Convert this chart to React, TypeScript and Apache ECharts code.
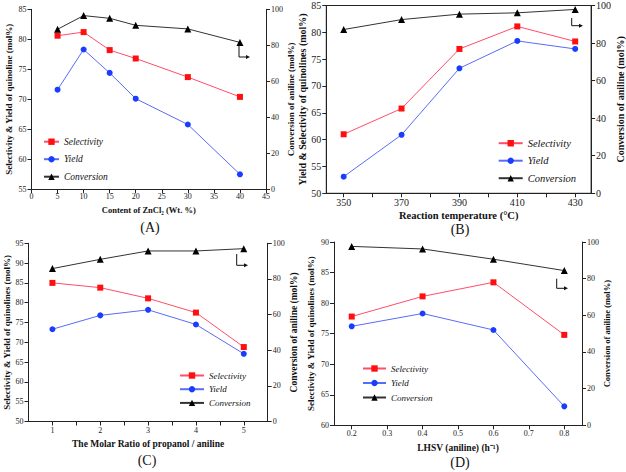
import React, { useEffect, useRef } from "react";
import * as echarts from "echarts";

// Panel A – content of ZnCl2
const A_x = [5, 10, 15, 20, 30, 40];
const A_sel = [80.6, 81.2, 78.2, 76.8, 73.7, 70.4];
const A_yield = [71.6, 78.3, 74.4, 70.1, 65.8, 57.5];
const A_conv = [88.9, 96.5, 95.0, 91.1, 89.1, 81.6];

// Panel B – reaction temperature
const B_x = [350, 370, 390, 410, 430];
const B_sel = [61.0, 65.8, 76.9, 81.1, 78.3];
const B_yield = [53.1, 60.9, 73.3, 78.4, 76.9];
const B_conv = [87.2, 92.5, 95.4, 96.1, 97.9];
const B_labels = [350, 370, 390, 410, 430];
const B_ticks = [350, 360, 370, 380, 390, 400, 410, 420, 430];

// Panel C – molar ratio
const C_x = [1, 2, 3, 4, 5];
const C_sel = [85.0, 83.8, 81.1, 77.5, 68.8];
const C_yield = [73.3, 76.8, 78.2, 74.5, 67.1];
const C_conv = [85.8, 91.0, 95.7, 95.7, 97.0];
const C_labels = [1, 2, 3, 4, 5];
const C_ticks = [1, 1.5, 2, 2.5, 3, 3.5, 4, 4.5, 5];

// Panel D – LHSV
const D_x = [0.2, 0.4, 0.6, 0.8];
const D_sel = [77.8, 81.1, 83.4, 74.8];
const D_yield = [76.2, 78.3, 75.6, 63.1];
const D_conv = [97.6, 96.2, 90.6, 84.4];
const D_labels = [0.2, 0.3, 0.4, 0.5, 0.6, 0.7, 0.8];

const SERIES_NAMES = ["Selectivity", "Yield", "Conversion"];
const FONT = "'Liberation Serif', 'Times New Roman', serif";

const SEL_LINE = "#ff4d6a";
const SEL_MARK = "#ff1010";
const Y_LINE = "#5a6cf5";
const Y_MARK = "#1a3cff";
const C_LINE = "#333333";
const C_MARK = "#000000";

const pairs = (xs: number[], ys: number[]) => xs.map((x, i) => [x, ys[i]]);

export default function App() {
  const ref = useRef<HTMLDivElement>(null);

  useEffect(() => {
    if (!ref.current) return;
    const chart = echarts.init(ref.current, null, { renderer: "svg" });

    const axisLine = { show: true, lineStyle: { color: "#222", width: 1 } };
    const tick = { show: true, inside: false, length: 4, lineStyle: { color: "#222" } };

    const xAxisCfg = (grid: number, o: any, fs: number, name: string, nfs: number, gap: number) => ({
      type: "value",
      gridIndex: grid,
      name,
      nameLocation: "middle",
      nameGap: gap,
      nameTextStyle: { fontFamily: FONT, fontSize: nfs, fontWeight: "bold", color: "#111" },
      axisLine,
      axisTick: { ...tick, ...(o.ticks ? { customValues: o.ticks } : {}) },
      axisLabel: {
        fontFamily: FONT,
        fontSize: fs,
        color: "#222",
        margin: o.margin ?? 4,
        ...(o.labels ? { customValues: o.labels } : {}),
      },
      splitLine: { show: false },
      min: o.min,
      max: o.max,
      ...(o.interval ? { interval: o.interval } : {}),
    });

    const yAxisCfg = (
      grid: number,
      pos: string,
      min: number,
      max: number,
      interval: number,
      fs: number,
      name: string,
      nfs: number,
      gap: number
    ) => ({
      type: "value",
      gridIndex: grid,
      position: pos,
      min,
      max,
      interval,
      name,
      nameLocation: "middle",
      nameRotate: 90,
      nameGap: gap,
      nameTextStyle: { fontFamily: FONT, fontSize: nfs, fontWeight: "bold", color: "#111" },
      axisLine,
      axisTick: tick,
      axisLabel: { fontFamily: FONT, fontSize: fs, color: "#222", margin: 5 },
      splitLine: { show: false },
    });

    const makeSeries = (axisOffset: number, xs: number[], sel: number[], yld: number[], conv: number[], size: number) => [
      {
        name: "Selectivity",
        type: "line",
        xAxisIndex: axisOffset,
        yAxisIndex: axisOffset * 2,
        data: pairs(xs, sel),
        symbol: "rect",
        symbolSize: size,
        lineStyle: { color: SEL_LINE, width: 1 },
        itemStyle: { color: SEL_MARK },
      },
      {
        name: "Yield",
        type: "line",
        xAxisIndex: axisOffset,
        yAxisIndex: axisOffset * 2,
        data: pairs(xs, yld),
        symbol: "circle",
        symbolSize: size,
        lineStyle: { color: Y_LINE, width: 1 },
        itemStyle: { color: Y_MARK },
      },
      {
        name: "Conversion",
        type: "line",
        xAxisIndex: axisOffset,
        yAxisIndex: axisOffset * 2 + 1,
        data: pairs(xs, conv),
        symbol: "triangle",
        symbolSize: size + 1,
        lineStyle: { color: C_LINE, width: 1 },
        itemStyle: { color: C_MARK },
      },
    ];

    const legendCfg = (left: number, top: number, itemWidth: number, gap: number, fs: number) => ({
      data: SERIES_NAMES,
      orient: "vertical",
      left,
      top,
      itemWidth,
      itemHeight: 8,
      itemGap: gap,
      selectedMode: false,
      padding: 0,
      textStyle: { fontFamily: FONT, fontStyle: "italic", fontSize: fs, color: "#111", lineHeight: 8 },
    });

    const arrow = (x: number, y1: number, y2: number, x2: number) => [
      {
        type: "polyline",
        shape: { points: [[x, y1], [x, y2], [x2 - 3, y2]] },
        style: { stroke: "#111", lineWidth: 1, fill: "none" },
      },
      {
        type: "polygon",
        shape: { points: [[x2, y2], [x2 - 4, y2 - 2], [x2 - 4, y2 + 2]] },
        style: { fill: "#111" },
      },
    ];

    const panelLabel = (text: string, x: number, y: number) => ({
      type: "text",
      x,
      y,
      style: { text, fontFamily: FONT, fontSize: 14, fill: "#111", align: "center", verticalAlign: "middle" },
    });

    const option: any = {
      animation: false,
      backgroundColor: "#ffffff",
      grid: [
        { left: 31.5, top: 9.3, width: 234.5, height: 180 },
        { left: 326.3, top: 5.5, width: 268.7, height: 187.8, show: true, borderColor: "#222", borderWidth: 1 },
        { left: 28.5, top: 243.3, width: 239.2, height: 178.2 },
        { left: 334, top: 242, width: 248, height: 183.3 },
      ],
      xAxis: [
        xAxisCfg(0, { min: 0, max: 45, interval: 5, margin: 3 }, 8, "Content of ZnCl\u2082 (Wt. %)", 8.5, 16),
        xAxisCfg(1, { min: 344, max: 435.5, labels: B_labels, ticks: B_ticks, margin: 4 }, 10, "Reaction temperature (\u00b0C)", 10.5, 17),
        xAxisCfg(2, { min: 0.5, max: 5.5, labels: C_labels, ticks: C_ticks, margin: 5 }, 8, "The Molar Ratio of propanol / aniline", 9.5, 17),
        xAxisCfg(3, { min: 0.15, max: 0.85, labels: D_labels, ticks: D_labels, margin: 4 }, 8, "LHSV (aniline) (h\u207b\u00b9)", 9.5, 18),
      ],
      yAxis: [
        yAxisCfg(0, "left", 55, 85, 5, 8, "Selectivity & Yield of quinoline (mol%)", 9, 18),
        yAxisCfg(0, "right", 0, 100, 20, 8, "Conversion of aniline (mol%)", 9, 15),
        yAxisCfg(1, "left", 50, 85, 5, 10, "Yield & Selectivity of quinolines (mol%)", 10, 16),
        yAxisCfg(1, "right", 0, 100, 20, 10, "Conversion of aniline (mol%)", 10, 18),
        yAxisCfg(2, "left", 50, 95, 5, 8, "Selectivity & Yield of quinolines (mol%)", 9, 17),
        yAxisCfg(2, "right", 0, 100, 20, 8, "Conversion of aniline (mol%)", 9.5, 14),
        yAxisCfg(3, "left", 60, 90, 5, 8, "Selectivity & Yield of quinolines (mol%)", 9, 19),
        yAxisCfg(3, "right", 0, 100, 20, 8, "Conversion of aniline (mol%)", 8.5, 16),
      ],
      legend: [
        legendCfg(43, 136.7, 15, 7.5, 9.5),
        legendCfg(497.7, 137.7, 24, 6.5, 10.5),
        legendCfg(179, 371, 24, 4.7, 9),
        legendCfg(362, 364, 23, 5.5, 9),
      ],
      series: [
        ...makeSeries(0, A_x, A_sel, A_yield, A_conv, 6),
        ...makeSeries(1, B_x, B_sel, B_yield, B_conv, 6),
        ...makeSeries(2, C_x, C_sel, C_yield, C_conv, 6),
        ...makeSeries(3, D_x, D_sel, D_yield, D_conv, 6),
      ],
      graphic: [
        ...arrow(239, 46, 57, 250),
        ...arrow(571.7, 18, 25.7, 583),
        ...arrow(236.7, 254, 265.3, 248),
        ...arrow(556.7, 278.7, 288.3, 568),
        panelLabel("(A)", 150, 227),
        panelLabel("(B)", 460, 229),
        panelLabel("(C)", 147, 460),
        panelLabel("(D)", 460, 462),
      ],
    };

    chart.setOption(option);
    return () => chart.dispose();
  }, []);

  return (
    <div
      ref={ref}
      style={{ position: "fixed", left: 0, top: 0, width: 626, height: 472, background: "#fff" }}
    />
  );
}
